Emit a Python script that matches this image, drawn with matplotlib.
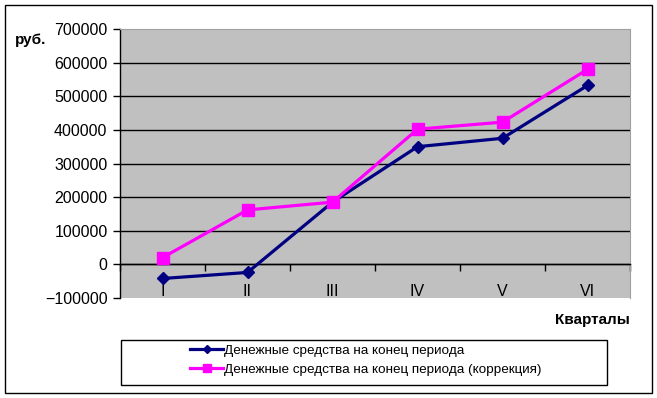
import matplotlib
matplotlib.use('Agg')
import matplotlib.pyplot as plt
from matplotlib.patches import Rectangle

plt.rcParams['font.family'] = ['Liberation Sans', 'DejaVu Sans']

# quarters and cash at end of period, rub.
quarters = ['I', 'II', 'III', 'IV', 'V', 'VI']
cash_end = [-42000, -24000, 185000, 350000, 375000, 532000]
cash_end_corr = [20000, 162000, 185000, 402000, 423000, 580000]

W, H = 657, 398
fig = plt.figure(figsize=(W / 100, H / 100), dpi=100)

# plot area in pixels: x 120..630, y 29..298
ax = fig.add_axes([120 / W, 1 - 298 / H, 510 / W, 269 / H])
ax.set_facecolor('#c0c0c0')

xs = [i + 0.5 for i in range(len(quarters))]
ax.plot(xs, cash_end, color='#000080', lw=2.3, marker='D', ms=6.5,
        label='Денежные средства на конец периода', zorder=3)
ax.plot(xs, cash_end_corr, color='#ff00ff', lw=2.3, marker='s', ms=9,
        label='Денежные средства на конец периода (коррекция)', zorder=3)

ax.set_xlim(0, 6)
ax.set_ylim(-100000, 700000)
ax.set_yticks(range(-100000, 700001, 100000))
ax.tick_params(axis='y', direction='out', length=5, width=1, pad=4, labelsize=11.5)

# category axis crosses at zero
ax.spines['bottom'].set_position(('data', 0))
ax.spines['bottom'].set_linewidth(1)
ax.set_xticks(range(7))
ax.set_xticklabels([])
ax.set_xticks(xs, minor=True)
ax.set_xticklabels(quarters, minor=True)
ax.tick_params(axis='x', which='major', direction='out', length=5, width=1)
ax.tick_params(axis='x', which='minor', length=0, pad=14, labelsize=11.5)

for s in ['top', 'right']:
    ax.spines[s].set_color('#a0a0a0')
    ax.spines[s].set_linewidth(0.8)
ax.spines['left'].set_linewidth(1)

ax.yaxis.grid(True, color='black', lw=1)
gl = ax.yaxis.get_gridlines()
gl[0].set_visible(False)
gl[-1].set_visible(False)
ax.set_axisbelow(True)

fig.text(15 / W, 1 - 40 / H, 'руб.', fontsize=11, fontweight='bold', va='center')
fig.text(630 / W, 1 - 320 / H, 'Кварталы', fontsize=11, fontweight='bold',
         ha='right', va='center')

# legend box
fig.patches.append(Rectangle((121 / W, 1 - 385 / H), 486 / W, 45 / H,
                             transform=fig.transFigure, fill=False,
                             edgecolor='black', lw=1))
h, l = ax.get_legend_handles_labels()
fig.legend(h, l, loc='center', bbox_to_anchor=(366 / W, 1 - 360 / H),
           frameon=False, fontsize=9.7, handlelength=2.4, handletextpad=0.1,
           labelspacing=0.5, markerscale=0.6)

# outer frame
fig.patches.append(Rectangle((5 / W, 1 - 393 / H), 647 / W, 388 / H,
                             transform=fig.transFigure, fill=False,
                             edgecolor='black', lw=1))

fig.savefig('out.png', dpi=100)
